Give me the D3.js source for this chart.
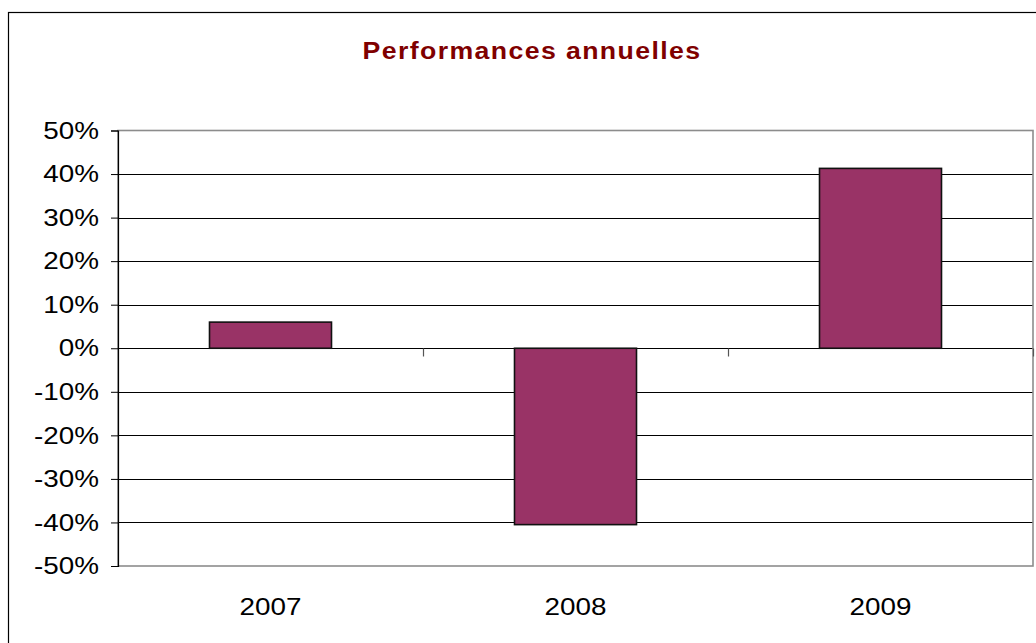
<!DOCTYPE html>
<html>
<head>
<meta charset="utf-8">
<script src="https://cdn.jsdelivr.net/npm/d3@7"></script>
<style>
  html, body { margin: 0; padding: 0; background: #fff; }
  svg { display: block; }
  text { font-family: "Liberation Sans", Arial, sans-serif; }
</style>
</head>
<body>
<svg id="chart" width="1036" height="643"></svg>
<script>
const title = "Performances annuelles";
const years = ["2007", "2008", "2009"];
const performances = [0.06, -0.405, 0.413];
const yTicks = [-0.5, -0.4, -0.3, -0.2, -0.1, 0, 0.1, 0.2, 0.3, 0.4, 0.5];

const svg = d3.select("#chart");
const plot = { left: 118, right: 1033, top: 130.5, bottom: 566 };
const stretch = 1.16;

const locale = d3.formatLocale({ decimal: ",", thousands: " ", grouping: [3], currency: ["", " €"], minus: "-", percent: "%" });
const pct = locale.format(".0%");

const x = d3.scaleBand().domain(years).range([plot.left, plot.right]).padding(0);
const y = d3.scaleLinear().domain([-0.5, 0.5]).range([plot.bottom, plot.top]);
const bw = x.bandwidth();
const barW = bw * 0.4;

// outer frame
svg.append("rect")
  .attr("x", 8.5).attr("y", 12.5).attr("width", 1040).attr("height", 640)
  .attr("fill", "none").attr("stroke", "#000").attr("stroke-width", 1.2);

// title
svg.append("text")
  .attr("transform", `translate(532,59) scale(${stretch},1)`)
  .attr("text-anchor", "middle")
  .attr("font-size", 23).attr("font-weight", "bold")
  .attr("fill", "#7f0000")
  .attr("letter-spacing", 1.2)
  .text(title);

// gridlines
svg.append("g")
  .selectAll("line")
  .data(yTicks.filter(d => Math.abs(d) < 0.45))
  .join("line")
  .attr("x1", plot.left).attr("x2", plot.right)
  .attr("y1", d => Math.round(y(d)) + 0.5).attr("y2", d => Math.round(y(d)) + 0.5)
  .attr("stroke", "#000").attr("stroke-width", 1);

// plot area border (gray)
svg.append("rect")
  .attr("x", plot.left).attr("y", plot.top)
  .attr("width", plot.right - plot.left).attr("height", plot.bottom - plot.top)
  .attr("fill", "none").attr("stroke", "#8c8c8c").attr("stroke-width", 1.6);

// bars
svg.append("g")
  .selectAll("rect")
  .data(years.map((yr, i) => ({ yr, v: performances[i] })))
  .join("rect")
  .attr("x", d => x(d.yr) + (bw - barW) / 2)
  .attr("width", barW)
  .attr("y", d => y(Math.max(0, d.v)))
  .attr("height", d => Math.abs(y(d.v) - y(0)))
  .attr("fill", "#993366")
  .attr("stroke", "#111").attr("stroke-width", 1.6);

// y axis
const yAxis = svg.append("g")
  .attr("transform", `translate(${plot.left},0)`)
  .call(d3.axisLeft(y).tickValues(yTicks).tickFormat(pct).tickSize(7).tickPadding(12));
yAxis.select(".domain").attr("stroke", "#000").attr("stroke-width", 1.2);
yAxis.selectAll(".tick line").attr("stroke", "#000");
yAxis.selectAll("text")
  .attr("font-size", 24).attr("fill", "#000")
  .attr("font-family", "'Liberation Sans', Arial, sans-serif")
  .attr("x", 0)
  .attr("transform", `translate(-19,0) scale(${stretch},1)`);

// x tick marks on zero line at category boundaries
const xb = d3.scaleLinear().domain([0, years.length]).range([plot.left, plot.right]);
const xTicks = svg.append("g")
  .attr("transform", `translate(0,${Math.round(y(0)) + 0.5})`)
  .call(d3.axisBottom(xb).tickValues([1, 2, 3]).tickSize(8).tickFormat(""));
xTicks.select(".domain").remove();
xTicks.selectAll(".tick line").attr("stroke", "#555").attr("stroke-width", 1.2);

// category labels
const xAxis = svg.append("g")
  .attr("transform", `translate(0,${plot.bottom})`)
  .call(d3.axisBottom(x).tickSize(0).tickPadding(31.5));
xAxis.select(".domain").remove();
xAxis.selectAll("text")
  .attr("font-size", 24).attr("fill", "#000")
  .attr("font-family", "'Liberation Sans', Arial, sans-serif")
  .attr("transform", `scale(${stretch},1)`);
</script>
</body>
</html>
